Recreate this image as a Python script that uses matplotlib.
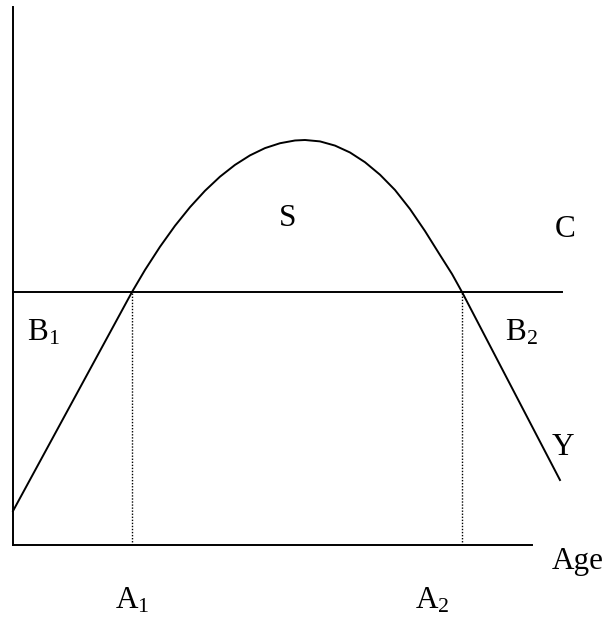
import numpy as np
import matplotlib
matplotlib.use("Agg")
import matplotlib.pyplot as plt

plt.rcParams['font.family'] = ['Liberation Serif', 'DejaVu Serif']
plt.rcParams['mathtext.fontset'] = 'custom'
plt.rcParams['mathtext.rm'] = 'Liberation Serif'
plt.rcParams['mathtext.it'] = 'Liberation Serif'

# income curve Y over age (arbitrary units)
age = [0, 22.93, 25.43, 28.32, 31.21, 34.10, 36.99, 39.88, 42.77, 45.66,
       48.55, 51.45, 54.34, 56.26, 59.15, 62.04, 64.93, 67.82, 70.71,
       73.60, 76.49, 79.38, 82.27, 84.59, 86.51, 105.39]
income = [6.32, 47.03, 51.12, 55.43, 59.33, 62.79, 65.84, 68.46, 70.65, 72.42,
          73.77, 74.68, 75.19, 75.28, 75.02, 74.24, 72.96, 71.15, 68.83,
          65.99, 62.45, 58.36, 53.90, 50.37, 47.03, 12.08]
consumption = 47.03
c_end = 105.8
a1, a2 = 22.93, 86.51

fig = plt.figure(figsize=(6.09, 6.18), dpi=100)
ax = fig.add_axes([13/609, 73/618, 519/609, 538/618])
ax.set_xlim(0, 100)
ax.set_ylim(0, 100)

ax.plot(age, income, color='black', lw=1.4, clip_on=False)
ax.plot([0, c_end], [consumption, consumption], color='black', lw=1.4, clip_on=False)
ax.plot([a1, a1], [0, consumption], color='black', lw=1.0, ls=(0, (1, 1.2)))
ax.plot([a2, a2], [0, consumption], color='black', lw=1.0, ls=(0, (1, 1.2)))

for s in ['top', 'right']:
    ax.spines[s].set_visible(False)
for s in ['left', 'bottom']:
    ax.spines[s].set_linewidth(1.4)
ax.set_xticks([])
ax.set_yticks([])

fs = 22.5
ax.text(53.0, 60.6, 'S', fontsize=fs, ha='center', va='center')
ax.text(106.4, 58.6, 'C', fontsize=fs, ha='center', va='center', clip_on=False)
ax.text(2.7, 39.4, r'$\mathrm{B}_1$', fontsize=fs, ha='left', va='center')
ax.text(94.8, 39.4, r'$\mathrm{B}_2$', fontsize=fs, ha='left', va='center')
ax.text(106.0, 18.2, 'Y', fontsize=fs, ha='center', va='center', clip_on=False)
ax.text(103.9, -3.0, 'Age', fontsize=fs, ha='left', va='center', clip_on=False)
ax.text(19.7, -10.3, r'$\mathrm{A}_1$', fontsize=fs, ha='left', va='center', clip_on=False)
ax.text(77.5, -10.3, r'$\mathrm{A}_2$', fontsize=fs, ha='left', va='center', clip_on=False)

fig.savefig('out.png', dpi=100)
